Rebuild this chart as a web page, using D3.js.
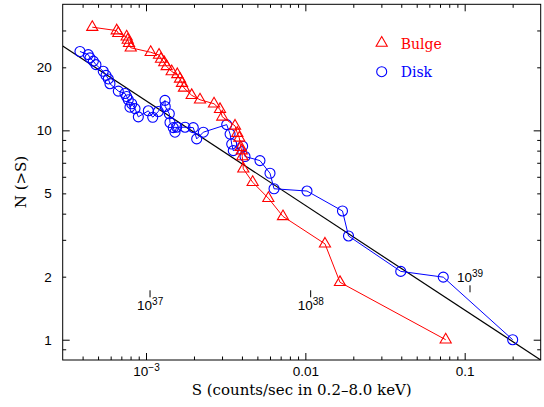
<!DOCTYPE html>
<html>
<head>
<meta charset="utf-8">
<script src="https://cdn.jsdelivr.net/npm/d3@7"></script>
<style>
body { margin: 0; background: #fff; }
svg { display: block; }
.axis path, .axis line { stroke: #000; stroke-width: 1; fill: none; }
.axis text { font-family: "Liberation Sans", Arial, sans-serif; font-size: 13.5px; fill: #000; }
.label { font-family: "DejaVu Serif", serif; font-size: 15px; fill: #000; }
</style>
</head>
<body>
<div id="chart"></div>
<script>
// cumulative source counts
var bulgeS = [4.60e-4, 6.55e-4, 6.70e-4, 7.56e-4, 7.68e-4, 7.82e-4, 8.02e-4, 1.07e-3, 1.207e-3,
    1.242e-3, 1.302e-3, 1.348e-3, 1.449e-3, 1.572e-3, 1.634e-3, 1.682e-3, 1.731e-3, 1.935e-3,
    2.182e-3, 2.672e-3, 2.913e-3, 3.011e-3, 3.62e-3, 3.74e-3, 3.85e-3, 3.93e-3, 3.99e-3,
    4.02e-3, 4.08e-3, 4.67e-3, 5.86e-3, 7.24e-3, 0.01328, 0.0165, 0.076];
var bulgeN = [31.1, 29.95, 29.1, 28.0, 27.0, 26.05, 24.8, 23.6, 22.9, 21.9, 21.1, 20.2, 19.1,
    18.5, 17.6, 16.8, 15.95, 14.7, 14.0, 13.4, 12.6, 11.6, 10.5, 9.7, 9.2, 8.3, 8.0, 7.5, 6.55,
    5.65, 4.74, 3.88, 2.87, 1.88, 1.0];

var diskS = [3.85e-4, 4.34e-4, 4.45e-4, 4.67e-4, 4.85e-4, 5.39e-4, 5.61e-4, 5.80e-4, 5.94e-4,
    6.70e-4, 7.38e-4, 7.56e-4, 7.74e-4, 7.93e-4, 8.13e-4, 8.53e-4, 8.95e-4, 1.034e-3, 1.102e-3,
    1.194e-3, 1.315e-3, 1.32e-3, 1.40e-3, 1.414e-3, 1.483e-3, 1.52e-3, 1.558e-3, 1.757e-3,
    1.98e-3, 2.08e-3, 2.29e-3, 3.21e-3, 3.37e-3, 3.45e-3, 3.53e-3, 4.04e-3, 4.18e-3, 5.19e-3,
    6.0e-3, 6.36e-3, 0.01024, 0.0171, 0.01866, 0.0397, 0.0734, 0.2001];
var diskN = [23.8, 23.0, 22.2, 21.4, 20.6, 19.15, 18.3, 17.6, 16.7, 15.4, 15.0, 14.5, 14.0, 12.9,
    13.4, 12.7, 11.6, 12.4, 11.55, 12.3, 13.9, 13.0, 12.0, 10.9, 10.3, 9.8, 10.35, 10.35, 10.3,
    9.1, 9.8, 10.65, 9.6, 8.6, 8.0, 8.4, 7.5, 7.17, 6.24, 5.26, 5.13, 4.12, 3.13, 2.12, 1.99, 1.0];

// S^-0.5 reference line, end points
var fitS = [3e-4, 0.3];
var fitN = [25.3, 0.8];

// luminosity markers
var lumS = [1.06e-3, 1.08e-2, 1.08e-1];
var lumExp = ["37", "38", "39"];

var xMajor = [1e-3, 0.01, 0.1];
var xMajorText = [["10", "\u22123"], ["0.01"], ["0.1"]];
var yMajor = [1, 10];
var yLabelVals = [1, 2, 5, 10, 20];

var legendNames = ["Bulge", "Disk"];
var legendColours = ["#ff0000", "#0000ff"];

var width = 544, height = 407;
var padding = { top: 4.3, right: 3.3, bottom: 47, left: 62.7 };
var size = { width: width - padding.left - padding.right, height: height - padding.top - padding.bottom };

var x = d3.scaleLog().domain([3e-4, 0.3]).range([0, size.width]);
var y = d3.scaleLog().domain([0.8, 40]).range([size.height, 0]);

var svg = d3.select("#chart").append("svg")
    .attr("width", width)
    .attr("height", height);
var vis = svg.append("g")
    .attr("transform", "translate(" + padding.left + "," + padding.top + ")");

function notIn(list) {
    return function(d) {
        return list.every(function(m) { return Math.abs(m - d) / m > 1e-6; });
    };
}
var xMinor = x.ticks().filter(notIn(xMajor)).filter(function(d) { return d > 3.01e-4 && d < 0.299; });
var yMinor = y.ticks().filter(notIn(yMajor)).filter(function(d) { return d > 0.81 && d < 39.9; });

// inward ticks on all four sides
function ticks(axisFn, vals, len, transform) {
    var g = vis.append("g").attr("class", "axis").attr("transform", transform || null)
        .call(axisFn.tickValues(vals).tickSizeInner(-len).tickSizeOuter(0).tickFormat(""));
    g.select(".domain").remove();
    return g;
}
ticks(d3.axisBottom(x), xMinor, 3.5, "translate(0," + size.height + ")");
ticks(d3.axisTop(x), xMinor, 3.5);
ticks(d3.axisTop(x), xMajor, 7);
ticks(d3.axisLeft(y), yMinor, 3.5);
ticks(d3.axisRight(y), yMinor, 3.5, "translate(" + size.width + ",0)");
ticks(d3.axisRight(y), yMajor, 7, "translate(" + size.width + ",0)");
ticks(d3.axisLeft(y), yMajor, 7);

var xAxis = vis.append("g").attr("class", "axis")
    .attr("transform", "translate(0," + size.height + ")")
    .call(d3.axisBottom(x).tickValues(xMajor).tickSizeInner(-7).tickSizeOuter(0).tickPadding(4).tickFormat(""));
xAxis.select(".domain").remove();
xAxis.selectAll(".tick text").each(function(d, i) {
    var t = d3.select(this).attr("dy", "0.9em");
    t.append("tspan").text(xMajorText[i][0]);
    if (xMajorText[i][1]) {
        t.append("tspan").attr("dy", "-0.5em").style("font-size", "10px").text(xMajorText[i][1]);
    }
});

var yAxis = vis.append("g").attr("class", "axis")
    .call(d3.axisLeft(y).tickValues(yLabelVals).tickSize(0).tickPadding(11).tickFormat(d3.format("d")));
yAxis.select(".domain").remove();

// frame
vis.append("rect")
    .attr("width", size.width)
    .attr("height", size.height)
    .style("fill", "none")
    .style("stroke", "#000")
    .style("stroke-width", 1);

var clip = vis.append("clipPath").attr("id", "plot-clip")
    .append("rect").attr("width", size.width).attr("height", size.height);

var line = d3.line()
    .x(function(d) { return x(d[0]); })
    .y(function(d) { return y(d[1]); });

vis.append("path")
    .datum(d3.zip(fitS, fitN))
    .attr("d", line)
    .attr("clip-path", "url(#plot-clip)")
    .style("fill", "none")
    .style("stroke", "#000")
    .style("stroke-width", 1.2);

var tri = d3.symbol().type(d3.symbolTriangle).size(54);

function series(S, N, colour, marker) {
    var pts = d3.zip(S, N);
    vis.append("path")
        .datum(pts)
        .attr("d", line)
        .style("fill", "none")
        .style("stroke", colour)
        .style("stroke-width", 1);
    var g = vis.append("g");
    if (marker == "circle") {
        g.selectAll("circle").data(pts).enter().append("circle")
            .attr("cx", function(d) { return x(d[0]); })
            .attr("cy", function(d) { return y(d[1]); })
            .attr("r", 5)
            .style("fill", "none")
            .style("stroke", colour)
            .style("stroke-width", 1.1);
    } else {
        g.selectAll("path").data(pts).enter().append("path")
            .attr("d", tri)
            .attr("transform", function(d) { return "translate(" + x(d[0]) + "," + y(d[1]) + ")"; })
            .style("fill", "none")
            .style("stroke", colour)
            .style("stroke-width", 1.1);
    }
}
series(diskS, diskN, legendColours[1], "circle");
series(bulgeS, bulgeN, legendColours[0], "triangle");

// legend
var legend = svg.append("g");
legend.append("path")
    .attr("d", tri)
    .attr("transform", "translate(381.7,43)")
    .style("fill", "none").style("stroke", legendColours[0]).style("stroke-width", 1.1);
legend.append("circle")
    .attr("cx", 381.7).attr("cy", 71.7).attr("r", 5)
    .style("fill", "none").style("stroke", legendColours[1]).style("stroke-width", 1.1);
legend.selectAll("text").data(legendNames).enter().append("text")
    .attr("x", 400.7)
    .attr("y", function(d, i) { return 48.5 + i * 28.5; })
    .style("font-family", "DejaVu Serif, serif")
    .style("font-size", "14px")
    .style("fill", function(d, i) { return legendColours[i]; })
    .text(function(d) { return d; });

// luminosity marks: tick above the label for 37/38, below for 39
var lum = vis.append("g").attr("class", "axis");
lumS.forEach(function(s, i) {
    var lx = x(s);
    var below = i == 2;
    var base = below ? 278 : 306;
    var tickTop = below ? base + 3 : base - 20;
    lum.append("line")
        .attr("x1", lx).attr("x2", lx)
        .attr("y1", tickTop).attr("y2", tickTop + 7);
    var t = lum.append("text").attr("x", lx - 13).attr("y", base);
    t.append("tspan").text("10");
    t.append("tspan").attr("dy", "-0.55em").style("font-size", "10px").text(lumExp[i]);
});

// axis titles
svg.append("text")
    .attr("class", "label")
    .attr("x", padding.left + size.width / 2)
    .attr("y", 395)
    .attr("text-anchor", "middle")
    .text("S (counts/sec in 0.2\u20138.0 keV)");

svg.append("text")
    .attr("class", "label")
    .attr("transform", "translate(26,182) rotate(-90)")
    .attr("text-anchor", "middle")
    .text("N (>S)");
</script>
</body>
</html>
